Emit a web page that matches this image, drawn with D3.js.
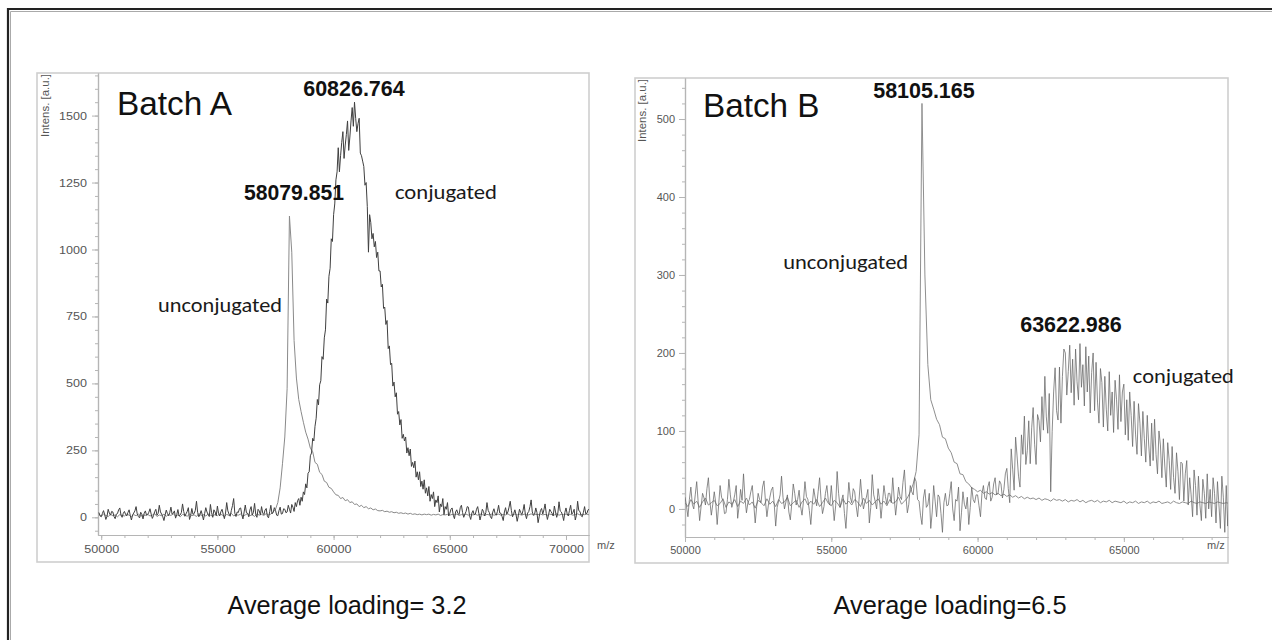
<!DOCTYPE html>
<html><head><meta charset="utf-8">
<script src="https://cdn.jsdelivr.net/npm/d3@7/dist/d3.min.js"></script>
<style>
body{margin:0;background:#fff;}
svg{display:block;}
</style>
</head><body>
<svg id="chart" width="1272" height="640"></svg>
<script>
// ---------------- DATA ----------------
// Batch A, unconjugated: intensities every 100 Da from 49900 m/z
const mzStartA = 49900;
const stepUnconjA = 100;
const unconjugatedA = [
  10,4,12,7,3,11,6,9,2,10,7,
  5,12,8,3,10,6,13,4,9,7,
  11,5,8,14,3,9,6,12,4,10,
  7,13,5,9,2,11,8,4,12,6,
  9,3,14,7,10,5,12,8,4,11,
  6,13,9,3,11,7,15,5,10,8,
  12,4,9,14,6,10,3,13,8,11,
  7,14,9,12,20,30,55,110,200,300,
  480,1125,990,660,520,440,395,355,318,292,
  258,245,205,198,168,160,135,130,112,108,
  95,84,82,70,74,62,66,55,58,48,
  50,40,45,36,40,32,35,28,31,25,
  24,26,21,23,19,21,17,19,15,17,
  14,16,12,15,11,13,10,12,9,12,
  10,12,8,11,9,12,7,10,9,11,
  8,11,9,12,7,10,9,12,8,10,
  9,11,8,12,10,7,11,9,12,8,
  10,12,8,11,9,13,7,10,12,9,
  11,8,12,10,9,13,8,11,10,12,
  9,11,8,12,10,9,13,8,11,10,
  12,9,11,8,10,13,9,11,10,12,9
];
// Batch A, conjugated: intensities every 50 Da from 49900 m/z
const stepConjA = 50;
const conjugatedA = [
  18,6,2,14,25,10,-8,4,30,16,8,22,20,3,-5,12,14,28,35,9,0,15,
  22,11,5,18,28,7,-10,9,16,24,40,13,3,-2,19,10,-6,15,24,8,
  10,19,32,12,-4,6,21,30,8,15,45,20,12,2,-12,9,27,14,6,18,
  38,12,15,24,-3,10,29,5,9,18,50,22,4,13,22,36,-8,7,33,11,
  14,26,60,18,2,11,25,9,-10,14,36,20,11,3,48,17,0,28,20,6,
  42,14,5,21,30,12,-5,16,55,24,12,4,26,44,70,15,3,20,18,33,
  35,10,-6,20,46,17,15,2,28,40,8,19,52,11,0,30,24,9,40,16,
  10,27,33,4,-2,21,45,13,18,36,26,8,6,25,38,12,14,32,30,17,
  20,45,30,16,48,38,22,55,40,62,70,45,75,60,95,85,125,110,165,170,
  230,240,295,285,340,370,440,420,495,510,600,590,670,700,815,800,900,930,1040,1030,
  1130,1170,1260,1290,1380,1290,1350,1400,1440,1340,1390,1430,1480,1370,1420,1480,1530,1460,1550,1490,
  1440,1470,1490,1360,1350,1330,1310,1240,1250,1160,990,1130,1100,1040,1060,1010,1030,970,990,920,
  920,860,870,780,785,720,735,630,640,570,575,490,505,450,465,385,395,345,365,295,
  310,285,300,240,260,230,255,190,205,185,210,150,170,140,170,115,135,105,140,90,
  110,80,115,60,85,70,95,40,65,55,80,20,50,40,70,10,40,30,55,5,
  15,30,35,8,-5,20,28,14,10,36,45,18,0,12,22,40,38,6,-8,16,
  25,10,12,30,40,15,-10,8,30,22,5,18,55,26,18,2,-5,20,32,14,
  8,22,45,16,15,3,-12,20,36,12,20,38,60,25,2,14,28,10,-15,6,
  30,18,10,25,48,12,-5,16,22,40,65,20,8,12,35,18,-20,4,25,33,
  12,28,50,15,-8,10,30,22,15,5,42,20,0,16,58,24,20,8,-12,18,
  35,14,5,26,45,12,18,30,-10,8,60,25,22,6,2,19,40,13,15,28,30
];
// Batch B, unconjugated: intensities every 100 Da from 50000 m/z
const mzStartB = 50000;
const stepUnconjB = 100;
const unconjugatedB = [
  8,3,12,6,10,2,9,14,5,8,
  11,4,7,13,2,9,6,12,3,10,
  7,14,5,9,1,11,8,4,13,6,
  10,3,12,7,9,15,4,8,11,2,
  9,13,5,10,6,12,3,8,14,7,
  4,11,8,2,13,6,10,5,12,9,
  3,14,7,11,5,9,13,6,10,4,
  12,7,9,15,6,10,14,22,32,48,
  95,520,300,185,140,128,115,108,92,90,
  78,72,60,58,45,44,35,32,27,25,
  22,24,20,22,19,21,18,20,17,19,
  16,18,15,17,14,16,13,15,13,14,
  12,14,11,13,12,10,13,11,12,10,
  12,9,11,10,12,9,11,8,10,11,
  9,11,8,10,9,11,8,10,9,8,
  10,7,9,8,10,7,9,8,10,7,
  9,8,10,7,8,9,7,10,8,7,
  9,8,7,10,8,7,9,8,7,9,
  8,7,9,8,7,8,7
];
// Batch B, conjugated: intensities every 50 Da from 50000 m/z
const stepConjB = 50;
const conjugatedB = [
  15,4,-10,12,28,6,0,18,35,9,-15,3,20,14,5,26,40,10,-8,6,
  22,8,-20,5,30,15,10,-6,-5,12,38,18,2,9,18,30,-12,4,25,11,
  45,14,-5,8,12,22,30,6,-18,3,20,12,8,28,36,10,-10,5,15,24,
  28,6,-22,2,10,18,42,15,0,9,18,-4,-14,7,32,20,5,12,24,3,
  -8,10,35,16,12,-2,-20,6,26,14,4,22,40,12,-6,3,20,30,10,5,
  30,8,-15,4,48,20,2,11,18,-6,-25,6,34,15,8,26,22,4,-10,12,
  38,14,0,9,15,25,-18,2,44,18,10,0,26,12,-12,8,30,16,6,20,
  20,8,40,14,-8,10,28,16,12,34,50,18,-5,6,30,22,18,40,35,12,
  10,-8,-20,14,25,2,5,20,-25,-4,30,10,-10,18,15,-6,-30,8,20,4,
  5,20,35,0,-15,12,10,28,-28,-5,22,6,0,15,-20,2,28,12,8,18,
  18,4,-10,20,30,14,12,28,35,10,15,32,40,18,20,36,32,14,25,45,
  52,26,8,77,51,24,92,68,42,28,95,70,119,57,75,113,58,104,130,83,
  57,121,113,86,144,101,170,118,97,148,22,99,150,181,126,114,182,110,170,205,
  200,146,176,210,149,192,133,205,163,140,212,156,185,132,208,150,196,123,175,200,
  126,188,137,110,180,162,105,170,128,100,176,120,150,98,165,140,102,172,112,150,
  160,95,140,88,150,120,80,138,96,70,135,110,68,125,90,60,120,82,55,110,
  62,115,70,45,100,82,40,90,55,28,85,62,25,80,40,20,72,48,12,60,
  58,10,45,62,5,40,18,-10,50,30,-8,42,5,-15,38,20,-12,45,0,25,
  -10,40,20,-18,35,5,-25,42,15,-30,30,-22,25
];
const yTicksA = [0,250,500,750,1000,1250,1500];
const yTicksB = [0,100,200,300,400,500];
const xTicksA = [50000,55000,60000,65000,70000];
const xTicksB = [50000,55000,60000,65000];
const titlesAB = ["Batch A","Batch B"];
const peakLabelsA = ["58079.851","60826.764"];
const peakLabelsB = ["58105.165","63622.986"];
const captions = ["Average loading= 3.2","Average loading=6.5"];
const yTitle = "Intens. [a.u.]";
const xTitle = "m/z";

// ---------------- DRAWING ----------------
const svg = d3.select("#chart");
const ARIAL = "'Liberation Sans', Arial, Helvetica, sans-serif";
const CALIBRI = "Carlito, Lato, 'Open Sans', sans-serif";

// page border (top + left)
svg.append("path").attr("d","M8,640 L8,9 L1272,9")
  .attr("fill","none").attr("stroke","#222").attr("stroke-width",2.2);
svg.append("path").attr("d","M10.5,640 L10.5,11.5 L1272,11.5")
  .attr("fill","none").attr("stroke","#aaa").attr("stroke-width",1);

function addText(g, s, x, y, o) {
  const t = g.append("text").attr("x", x).attr("y", y).text(s)
    .style("font-family", o.family || ARIAL)
    .style("font-size", o.size + "px")
    .style("font-weight", o.weight || "normal")
    .attr("fill", o.fill || "#111")
    .attr("text-anchor", o.anchor || "start");
  if (o.len) t.attr("textLength", o.len).attr("lengthAdjust", "spacingAndGlyphs");
  if (o.transform) t.attr("transform", o.transform);
  return t;
}

function panel(cfg) {
  const g = svg.append("g");
  const f = cfg.frame, p = cfg.plot;
  g.append("rect").attr("x", f.x).attr("y", f.y).attr("width", f.w).attr("height", f.h)
    .attr("fill", "#fff").attr("stroke", "#cfcfcf").attr("stroke-width", 1.6);

  const x = d3.scaleLinear().domain(cfg.xDomain).range([p.left, p.right]);
  const y = d3.scaleLinear().domain(cfg.yDomain).range([p.bottom, p.top]);

  // minor ticks
  g.append("g").attr("transform", `translate(${p.left},0)`)
    .call(d3.axisLeft(y).tickValues(y.ticks(cfg.yMinor)).tickSize(3).tickFormat("").tickSizeOuter(0));
  g.append("g").attr("transform", `translate(0,${p.bottom})`)
    .call(d3.axisBottom(x).tickValues(x.ticks(cfg.xMinor)).tickSize(3).tickFormat("").tickSizeOuter(0));
  // major ticks
  const ya = g.append("g").attr("transform", `translate(${p.left},0)`)
    .call(d3.axisLeft(y).tickValues(cfg.yTicks).tickSize(6).tickPadding(cfg.padY).tickSizeOuter(0).tickFormat(d => String(d)));
  const xa = g.append("g").attr("transform", `translate(0,${p.bottom})`)
    .call(d3.axisBottom(x).tickValues(cfg.xTicks).tickSize(5).tickPadding(cfg.padX).tickSizeOuter(0).tickFormat(d => String(d)));
  g.selectAll(".domain").attr("stroke", "#b5b5b5").attr("stroke-width", 1.2);
  g.selectAll(".tick line").attr("stroke", "#b5b5b5");
  [ya, xa].forEach(a => a.selectAll(".tick text")
    .attr("fill", "#555").style("font-family", ARIAL).style("font-size", cfg.tickFont + "px")
    .attr("textLength", d => String(d).length * cfg.digitW).attr("lengthAdjust", "spacingAndGlyphs"));

  // axis titles
  addText(g, yTitle, 0, 0, {size: 10.5, fill: "#555", anchor: "end",
    transform: `translate(${cfg.yTitleX},${p.top + 1}) rotate(-90)`, len: 63});
  addText(g, xTitle, cfg.mzX, 549, {size: 11, fill: "#555"});

  // traces
  const cid = cfg.id + "-clip";
  svg.append("clipPath").attr("id", cid).append("rect")
    .attr("x", p.left).attr("y", p.top).attr("width", p.right - p.left).attr("height", p.bottom - p.top);
  const tg = g.append("g").attr("clip-path", `url(#${cid})`);
  cfg.traces.forEach(tr => {
    const line = d3.line().x((d, i) => x(cfg.mzStart + i * tr.step)).y(d => y(d));
    tg.append("path").datum(tr.values).attr("d", line).attr("fill", "none")
      .attr("stroke", tr.color).attr("stroke-width", tr.width).attr("stroke-linejoin", "round");
  });

  // annotations (positioned in data space)
  cfg.notes.forEach(n => addText(g, n.text, x(n.mz), y(n.v), n.style));
  // caption
  addText(g, cfg.caption, cfg.captionX, 613.5, {size: 25, fill: "#111", anchor: "middle", len: cfg.captionLen});
}

const bold = {size: 21.5, weight: "bold", anchor: "middle", len: 101.5};
const lab = {size: 21, family: CALIBRI, fill: "#1a1a1a"};

panel({
  id: "A",
  frame: {x: 37, y: 73, w: 552, h: 489},
  plot: {left: 98, right: 589, top: 73, bottom: 535},
  xDomain: [49862, 70990], yDomain: [-66, 1659],
  xTicks: xTicksA, yTicks: yTicksA, xMinor: 20, yMinor: 35,
  padY: 5, padX: 5, tickFont: 11, digitW: 7.0,
  yTitleX: 48.5, mzX: 597,
  mzStart: mzStartA,
  traces: [
    {values: unconjugatedA, step: stepUnconjA, color: "#8a8a8a", width: 1.0},
    {values: conjugatedA, step: stepConjA, color: "#404040", width: 1.0}
  ],
  caption: captions[0], captionX: 347, captionLen: 239,
  notes: [
    {text: titlesAB[0], mz: 50680, v: 1503, style: {size: 33, len: 115, fill: "#111"}},
    {text: peakLabelsA[1], mz: 60876, v: 1572, style: bold},
    {text: peakLabelsA[0], mz: 58295, v: 1186, style: Object.assign({}, bold, {len: 100})},
    {text: "conjugated", mz: 62640, v: 1189, style: Object.assign({}, lab, {len: 102})},
    {text: "unconjugated", mz: 52444, v: 768, style: Object.assign({}, lab, {len: 124})}
  ]
});

panel({
  id: "B",
  frame: {x: 635, y: 78, w: 593, h: 485},
  plot: {left: 685, right: 1228, top: 78, bottom: 537},
  xDomain: [50000, 68560], yDomain: [-36, 552.6],
  xTicks: xTicksB, yTicks: yTicksB, xMinor: 20, yMinor: 30,
  padY: 4, padX: 5, tickFont: 10, digitW: 6.1,
  yTitleX: 645.5, mzX: 1207,
  mzStart: mzStartB,
  traces: [
    {values: unconjugatedB, step: stepUnconjB, color: "#8f8f8f", width: 1.0},
    {values: conjugatedB, step: stepConjB, color: "#666666", width: 0.75}
  ],
  caption: captions[1], captionX: 950, captionLen: 233,
  notes: [
    {text: titlesAB[1], mz: 50615, v: 503, style: {size: 33, len: 116.5, fill: "#111"}},
    {text: peakLabelsB[0], mz: 58168, v: 526.5, style: bold},
    {text: "unconjugated", mz: 53356, v: 307.3, style: Object.assign({}, lab, {len: 125})},
    {text: peakLabelsB[1], mz: 63192, v: 226.5, style: bold},
    {text: "conjugated", mz: 65308, v: 161.2, style: Object.assign({}, lab, {len: 101})}
  ]
});
</script>
</body></html>
